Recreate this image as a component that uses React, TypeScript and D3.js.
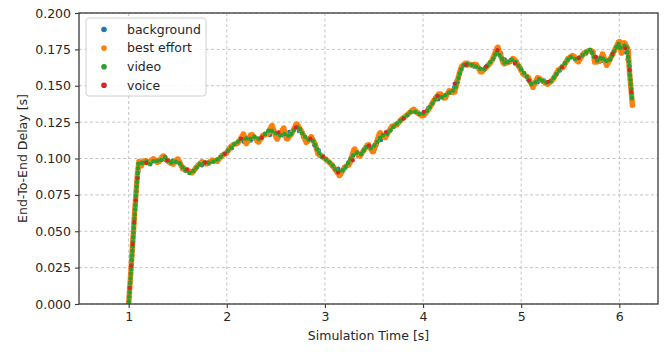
import React, { useRef, useEffect } from 'react';
import * as d3 from 'd3';

type Pt = [number, number]; // [simulation time (s), end-to-end delay (s)]

const seriesNames = ['background', 'best effort', 'video', 'voice'];
const seriesColours = ['#1f77b4', '#ff7f0e', '#2ca02c', '#d62728'];

const xTicks = [1, 2, 3, 4, 5, 6];
const yTicks = [0, 0.025, 0.05, 0.075, 0.1, 0.125, 0.15, 0.175, 0.2];

const background: Pt[] = [
  [1.0, 0.0], [1.04, 0.04], [1.08, 0.081], [1.11, 0.097], [1.2, 0.098], [1.3, 0.098], [1.4, 0.099], [1.5, 0.098],
  [1.6, 0.091], [1.7, 0.094], [1.8, 0.097], [1.9, 0.099], [2.0, 0.104], [2.1, 0.11], [2.2, 0.112], [2.3, 0.113],
  [2.4, 0.117], [2.5, 0.115], [2.6, 0.116], [2.7, 0.122], [2.8, 0.113], [2.9, 0.109], [3.0, 0.1], [3.1, 0.093],
  [3.2, 0.093], [3.3, 0.104], [3.4, 0.106], [3.5, 0.107], [3.6, 0.115], [3.7, 0.122], [3.8, 0.128], [3.9, 0.133],
  [4.0, 0.13], [4.1, 0.139], [4.2, 0.142], [4.3, 0.146], [4.4, 0.164], [4.5, 0.164], [4.6, 0.16], [4.7, 0.167],
  [4.77, 0.175], [4.85, 0.166], [4.95, 0.167], [5.05, 0.156], [5.12, 0.15], [5.2, 0.154], [5.3, 0.153], [5.4, 0.161],
  [5.5, 0.17], [5.6, 0.169], [5.7, 0.174], [5.8, 0.167], [5.9, 0.168], [6.0, 0.18], [6.05, 0.179], [6.1, 0.163],
  [6.13, 0.138],
];

const bestEffort: Pt[] = [
  [1.0, 0.0], [1.03, 0.03], [1.06, 0.062], [1.09, 0.09], [1.105, 0.098], [1.13, 0.095], [1.16, 0.099], [1.2, 0.097],
  [1.25, 0.1], [1.3, 0.097], [1.35, 0.102], [1.4, 0.098], [1.45, 0.096], [1.5, 0.1], [1.55, 0.093], [1.6, 0.092],
  [1.65, 0.09], [1.7, 0.095], [1.75, 0.098], [1.8, 0.096], [1.85, 0.099], [1.9, 0.098], [1.95, 0.102], [2.0, 0.104],
  [2.05, 0.109], [2.12, 0.111], [2.17, 0.117], [2.2, 0.11], [2.25, 0.117], [2.32, 0.111], [2.37, 0.116], [2.42, 0.117],
  [2.46, 0.123], [2.51, 0.113], [2.58, 0.121], [2.61, 0.113], [2.66, 0.117], [2.71, 0.124], [2.76, 0.119], [2.81, 0.111],
  [2.86, 0.115], [2.9, 0.11], [2.93, 0.103], [3.0, 0.1], [3.05, 0.097], [3.08, 0.095], [3.15, 0.088], [3.2, 0.094],
  [3.25, 0.096], [3.3, 0.107], [3.35, 0.101], [3.39, 0.105], [3.44, 0.11], [3.49, 0.104], [3.56, 0.118], [3.61, 0.114],
  [3.68, 0.122], [3.73, 0.123], [3.78, 0.127], [3.84, 0.13], [3.9, 0.134], [3.95, 0.131], [4.0, 0.129], [4.05, 0.133],
  [4.12, 0.141], [4.17, 0.145], [4.22, 0.141], [4.27, 0.147], [4.32, 0.145], [4.36, 0.156], [4.39, 0.163], [4.44, 0.166],
  [4.49, 0.164], [4.54, 0.165], [4.59, 0.159], [4.65, 0.163], [4.7, 0.167], [4.73, 0.172], [4.76, 0.177], [4.82, 0.165],
  [4.87, 0.166], [4.92, 0.169], [4.97, 0.164], [5.02, 0.158], [5.07, 0.156], [5.09, 0.153], [5.12, 0.149], [5.17, 0.156],
  [5.22, 0.153], [5.27, 0.151], [5.32, 0.154], [5.38, 0.161], [5.43, 0.163], [5.48, 0.169], [5.53, 0.171], [5.58, 0.166],
  [5.63, 0.172], [5.68, 0.174], [5.73, 0.174], [5.75, 0.166], [5.8, 0.167], [5.83, 0.172], [5.87, 0.164], [5.92, 0.17],
  [5.97, 0.177], [6.0, 0.181], [6.02, 0.172], [6.05, 0.18], [6.09, 0.175], [6.105, 0.158], [6.12, 0.147], [6.135, 0.135],
];

const video: Pt[] = [
  [1.0, 0.0], [1.02, 0.019], [1.05, 0.05], [1.08, 0.08], [1.1, 0.097], [1.14, 0.097], [1.18, 0.098], [1.22, 0.096],
  [1.27, 0.099], [1.32, 0.098], [1.37, 0.101], [1.42, 0.097], [1.47, 0.098], [1.52, 0.097], [1.57, 0.092], [1.62, 0.09],
  [1.67, 0.092], [1.72, 0.096], [1.77, 0.097], [1.82, 0.097], [1.87, 0.098], [1.92, 0.1], [1.97, 0.103], [2.02, 0.106],
  [2.08, 0.11], [2.14, 0.113], [2.19, 0.114], [2.23, 0.113], [2.28, 0.115], [2.34, 0.113], [2.39, 0.117], [2.44, 0.12],
  [2.48, 0.118], [2.54, 0.116], [2.6, 0.117], [2.64, 0.115], [2.69, 0.12], [2.73, 0.122], [2.78, 0.116], [2.83, 0.113],
  [2.88, 0.112], [2.92, 0.106], [2.97, 0.101], [3.02, 0.099], [3.07, 0.096], [3.12, 0.091], [3.17, 0.091], [3.22, 0.095],
  [3.27, 0.101], [3.32, 0.104], [3.37, 0.103], [3.42, 0.108], [3.47, 0.107], [3.52, 0.11], [3.58, 0.116], [3.64, 0.117],
  [3.7, 0.122], [3.75, 0.125], [3.81, 0.128], [3.87, 0.132], [3.92, 0.132], [3.98, 0.13], [4.03, 0.132], [4.09, 0.137],
  [4.14, 0.143], [4.2, 0.142], [4.25, 0.145], [4.3, 0.146], [4.34, 0.15], [4.38, 0.16], [4.42, 0.165], [4.47, 0.165],
  [4.52, 0.164], [4.57, 0.162], [4.62, 0.161], [4.67, 0.165], [4.72, 0.169], [4.75, 0.174], [4.79, 0.17], [4.84, 0.165],
  [4.9, 0.168], [4.95, 0.166], [5.0, 0.161], [5.05, 0.157], [5.1, 0.151], [5.14, 0.152], [5.19, 0.155], [5.24, 0.152],
  [5.3, 0.153], [5.35, 0.157], [5.4, 0.162], [5.45, 0.166], [5.5, 0.17], [5.56, 0.168], [5.61, 0.17], [5.66, 0.173],
  [5.71, 0.175], [5.74, 0.17], [5.78, 0.167], [5.82, 0.17], [5.85, 0.167], [5.9, 0.167], [5.95, 0.174], [5.99, 0.179],
  [6.01, 0.176], [6.04, 0.177], [6.07, 0.178], [6.1, 0.165], [6.115, 0.152], [6.13, 0.14],
];

const voice: Pt[] = [
  [1.0, 0.0], [1.05, 0.051], [1.1, 0.096], [1.15, 0.096], [1.25, 0.099], [1.35, 0.1], [1.45, 0.097], [1.55, 0.094],
  [1.65, 0.091], [1.75, 0.097], [1.85, 0.098], [1.95, 0.101], [2.05, 0.108], [2.15, 0.114], [2.25, 0.116], [2.35, 0.114],
  [2.45, 0.121], [2.55, 0.117], [2.65, 0.116], [2.72, 0.123], [2.85, 0.114], [2.95, 0.103], [3.05, 0.097], [3.15, 0.089],
  [3.25, 0.097], [3.35, 0.102], [3.45, 0.109], [3.55, 0.116], [3.65, 0.119], [3.75, 0.125], [3.85, 0.13], [3.95, 0.131],
  [4.05, 0.133], [4.15, 0.143], [4.25, 0.145], [4.35, 0.154], [4.45, 0.166], [4.55, 0.164], [4.65, 0.163], [4.75, 0.175],
  [4.9, 0.168], [5.0, 0.16], [5.1, 0.152], [5.2, 0.155], [5.3, 0.152], [5.4, 0.161], [5.5, 0.17], [5.6, 0.169],
  [5.7, 0.174], [5.8, 0.167], [5.9, 0.168], [5.98, 0.178], [6.05, 0.179], [6.1, 0.163], [6.13, 0.138],
];

const allSeries = [background, bestEffort, video, voice];

// dotted strokes so the overlapping series interleave like dense scatter markers
const dotStyles = [
  { width: 4.5, dash: '0 7', offset: 0 },
  { width: 5.6, dash: '0 2.6', offset: 0 },
  { width: 4.6, dash: '0 4.6', offset: 2 },
  { width: 4.2, dash: '0 22', offset: 6 },
];

const App: React.FC = () => {
  const svgRef = useRef<SVGSVGElement | null>(null);

  useEffect(() => {
    if (!svgRef.current) return;
    const width = 664;
    const height = 352;
    const margin = { left: 79, right: 6, top: 13, bottom: 48 };
    const font = '"DejaVu Sans", sans-serif';

    const svg = d3.select(svgRef.current);
    svg.selectAll('*').remove();

    const x = d3.scaleLinear().domain([0.494, 6.394]).range([margin.left, width - margin.right]);
    const y = d3.scaleLinear().domain([0, 0.2]).range([height - margin.bottom, margin.top]);

    svg.append('rect').attr('width', width).attr('height', height).attr('fill', 'white');

    svg.append('defs').append('clipPath').attr('id', 'plot-clip')
      .append('rect')
      .attr('x', margin.left).attr('y', margin.top - 3)
      .attr('width', width - margin.left - margin.right)
      .attr('height', height - margin.top - margin.bottom + 3);

    // grid
    const grid = svg.append('g').attr('stroke', '#c4c4c4').attr('stroke-width', 1).attr('stroke-dasharray', '3 2.5');
    grid.selectAll('line.gx').data(xTicks).enter().append('line')
      .attr('x1', d => x(d)).attr('x2', d => x(d))
      .attr('y1', margin.top).attr('y2', height - margin.bottom);
    grid.selectAll('line.gy').data(yTicks).enter().append('line')
      .attr('x1', margin.left).attr('x2', width - margin.right)
      .attr('y1', d => y(d)).attr('y2', d => y(d));

    // series
    const line = d3.line<Pt>().x(d => x(d[0])).y(d => y(d[1]));
    const plot = svg.append('g').attr('clip-path', 'url(#plot-clip)');
    allSeries.forEach((s, i) => {
      plot.append('path')
        .attr('d', line(s) ?? '')
        .attr('fill', 'none')
        .attr('stroke', seriesColours[i])
        .attr('stroke-width', dotStyles[i].width)
        .attr('stroke-linecap', 'round')
        .attr('stroke-dasharray', dotStyles[i].dash)
        .attr('stroke-dashoffset', dotStyles[i].offset);
    });

    // frame
    svg.append('rect')
      .attr('x', margin.left).attr('y', margin.top)
      .attr('width', width - margin.left - margin.right)
      .attr('height', height - margin.top - margin.bottom)
      .attr('fill', 'none').attr('stroke', '#3a3a3a').attr('stroke-width', 1.3);

    // axes
    const xAxis = svg.append('g')
      .attr('transform', `translate(0,${height - margin.bottom})`)
      .call(d3.axisBottom(x).tickValues(xTicks).tickSize(4).tickPadding(4).tickFormat(d3.format('d')));
    const yAxis = svg.append('g')
      .attr('transform', `translate(${margin.left},0)`)
      .call(d3.axisLeft(y).tickValues(yTicks).tickSize(4).tickPadding(4).tickFormat(d3.format('.3f')));
    [xAxis, yAxis].forEach(a => {
      a.select('.domain').remove();
      a.selectAll('line').attr('stroke', '#3a3a3a').attr('stroke-width', 1.1);
      a.selectAll('text').attr('fill', '#262626').style('font-family', font).style('font-size', '12.5px');
    });

    // axis labels
    svg.append('text')
      .attr('x', (margin.left + width - margin.right) / 2).attr('y', 340)
      .attr('text-anchor', 'middle').attr('fill', '#262626')
      .style('font-family', font).style('font-size', '12.5px')
      .text('Simulation Time [s]');
    svg.append('text')
      .attr('transform', `translate(27,${(margin.top + height - margin.bottom) / 2}) rotate(-90)`)
      .attr('text-anchor', 'middle').attr('fill', '#262626')
      .style('font-family', font).style('font-size', '12.5px')
      .text('End-To-End Delay [s]');

    // legend
    const legend = svg.append('g');
    legend.append('rect')
      .attr('x', 86).attr('y', 18).attr('width', 120).attr('height', 78)
      .attr('rx', 3).attr('fill', 'white').attr('fill-opacity', 0.85)
      .attr('stroke', '#d0d0d0').attr('stroke-width', 1);
    seriesNames.forEach((name, i) => {
      const cy = 29.5 + i * 18.6;
      legend.append('circle').attr('cx', 104).attr('cy', cy).attr('r', 2.8).attr('fill', seriesColours[i]);
      legend.append('text')
        .attr('x', 127).attr('y', cy).attr('dy', '0.35em')
        .attr('fill', '#262626')
        .style('font-family', font).style('font-size', '12.5px')
        .text(name);
    });
  }, []);

  return (
    <div style={{ position: 'absolute', left: 0, top: 0 }}>
      <svg ref={svgRef} width={664} height={352} style={{ display: 'block' }} />
    </div>
  );
};

export default App;
